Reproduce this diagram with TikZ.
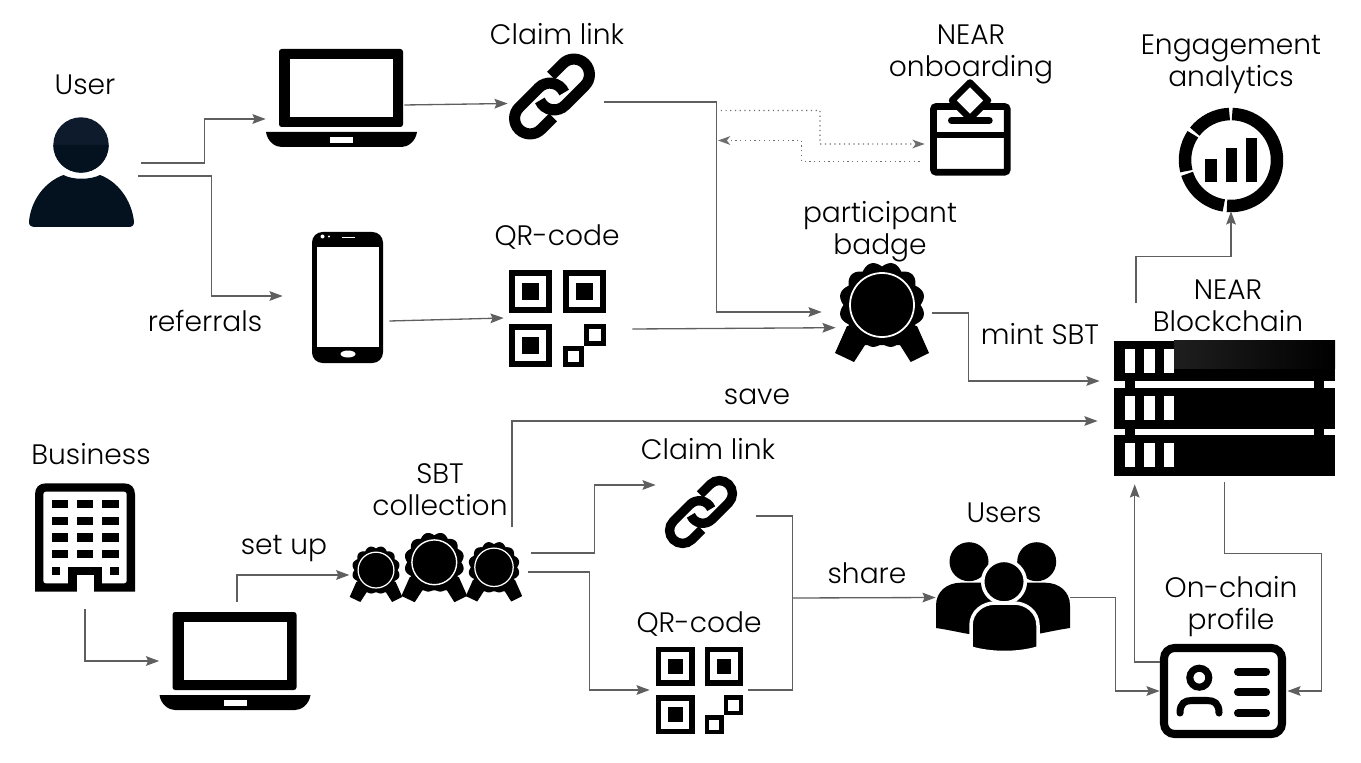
\documentclass[tikz,border=0pt]{standalone}
\usepackage{fontspec}
\setmainfont{Poppins}[UprightFont=* Light]
\usetikzlibrary{arrows.meta}
\definecolor{connGray}{HTML}{5F5F5F}
\definecolor{dotGray}{HTML}{6E6E6E}
\definecolor{userNavy}{HTML}{04111F}
\definecolor{headNavy}{HTML}{0D1B2C}
\tikzset{
  lbl/.style={font=\fontsize{16}{18.2}\selectfont, align=center, inner sep=0pt},
  iconbox/.style 2 args={minimum width=#1*0.02cm, minimum height=#2*0.02cm, inner sep=0pt},
  conn/.style={draw=connGray, line width=0.75pt},
  arr/.style={conn, -{Stealth[length=7.5pt,width=5.5pt,inset=1.2pt]}},
  dotarr/.style={draw=dotGray, line width=0.7pt, dotted, -{Stealth[length=7pt,width=5pt,inset=2pt,sep=0pt]}},
  pics/laptopicon/.style={code={
    \fill[black, rounded corners=1.5pt] (-62.5,-49) rectangle (61.5,29);
    \fill[white] (-51.5,-39) rectangle (51.5,19);
    \fill[black] (-75.5,34) -- (75.5,34) .. controls (74,44) and (66,49) .. (60,49) -- (-60,49) .. controls (-66,49) and (-74,44) .. (-75.5,34) -- cycle;
    \fill[white] (-11.5,39) rectangle (11.5,45);
  }},
  pics/phoneicon/.style={code={
    \fill[black, rounded corners=6pt] (-35.5,-65.5) rectangle (35.5,65.5);
    \fill[white] (-30.5,-50.5) rectangle (31.5,49.5);
    \fill[white] (0.5,56.5) ellipse (7.5 and 3.5);
    \fill[white] (-5.5,-60.8) rectangle (7.5,-59.2);
    \fill[white] (-25,-61) circle (2);
    \fill[white] (-18.5,-61) circle (1.2);
  }},
  pics/qricon/.style={code={
    \foreach \px/\py in {-27/-27,27.2/-27,-27/27} {
      \fill[black] ({\px-21.5},{\py-21.5}) rectangle ({\px+21.5},{\py+21.5});
      \fill[white] ({\px-15.5},{\py-15.5}) rectangle ({\px+15.5},{\py+15.5});
      \fill[black] ({\px-8.3},{\py-8.3}) rectangle ({\px+8.3},{\py+8.3});
    }
    \fill[black] (26.8,5.5) rectangle (48.5,27.5);
    \fill[white] (31.8,10.5) rectangle (43.5,22.5);
    \fill[black] (5.8,27.5) rectangle (26.8,48.5);
    \fill[white] (10.8,32.5) rectangle (21.8,43.5);
  }},
  pics/linkicon/.style={code={
    \foreach \ang in {-45,135} {
      \draw[black, line width=#1, rotate=\ang] (11.37,5.8) arc[start angle=22,end angle=-90,radius=15.5] -- (-31,-15.5) arc[start angle=-90,end angle=-270,radius=15.5] -- (-14,15.5);
    }
  }},
  pics/badgeicon/.style={code={
    \fill[black] (-47,41) -- (-35,14) -- (35,14) -- (47,41) -- (28.7,50) -- (18,33) -- (-17,33) -- (-28,50) -- cycle;
    \fill[black] plot[domain=0:360, samples=241] ({(38.5+4.5*abs(sin(6*\x)))*cos(\x)},{-7+(38.5+4.5*abs(sin(6*\x)))*sin(\x)}) -- cycle;
    \draw[white, line width=#1] (0,-7) circle (32);
  }},
  pics/ballot/.style={code={
    \draw[black, line width=3.8pt, rounded corners=1.5pt] (-37,-20.5) rectangle (36.7,45.2);
    \draw[black, line width=3.8pt] (-37,8) -- (36.7,8);
    \draw[black, fill=white, line width=3.7pt, line join=round] (-0.5,-44.5) -- (17.5,-26.5) -- (-0.5,-8.5) -- (-18.5,-26.5) -- cycle;
    \draw[black, line width=4pt, line cap=round] (-19,-6.5) -- (18.7,-6.5);
  }},
  pics/ringicon/.style={code={
    \foreach \aa/\bb in {-88.5/95,99/162.5,166/214,218/268} {
      \draw[black, line width=7.1pt] (\aa:46) arc[start angle=\aa,end angle=\bb,radius=46];
    }
    \fill[black] (-26,-0.7) rectangle (-14.3,21.7);
    \fill[black] (-5.3,-12.3) rectangle (6,21.7);
    \fill[black] (15,-22.3) rectangle (26,21.7);
  }},
  pics/servericon/.style={code={
    \fill[black] (-99.7,-27.2) rectangle (-89.7,26.8);
    \fill[black] (89.3,-27.2) rectangle (99.3,26.8);
    \foreach \ry in {-47.4,0.1,47.2} {
      \fill[black] (-110.4,{\ry-20.2}) rectangle (110.4,{\ry+20.2});
      \fill[white] (-99.7,{\ry-12}) rectangle (-89.7,{\ry+12});
      \fill[white] (-80.4,{\ry-12}) rectangle (-69.7,{\ry+12});
      \fill[white] (-60.7,{\ry-12}) rectangle (-50.7,{\ry+12});
    }
    \shade[left color=black!88, right color=black] (-50.7,-67.5) rectangle (110.4,-39.5);
  }},
  pics/usericon/.style={code={
    \fill[headNavy] (-0.5,-27.5) circle (27.7);
    \fill[userNavy] (-28.2,-27.5) arc[start angle=180,end angle=0,radius=27.7] -- cycle;
    \fill[userNavy] (-18,2.5) .. controls (-9,7.5) and (9,7.5) .. (18.5,2.5) .. controls (36,9) and (50,27) .. (52.5,49) .. controls (52.5,52.5) and (51,54.5) .. (48.5,54.5) -- (-48,54.5) .. controls (-51,54.5) and (-52.5,52.5) .. (-52.5,49) .. controls (-50.5,27) and (-36,9) .. (-18,2.5) -- cycle;
  }},
  pics/buildingicon/.style={code={
    \fill[black] (-50,54.2) -- (-50,-43) .. controls (-50,-50) and (-46,-54.2) .. (-39,-54.2) -- (39,-54.2) .. controls (46,-54.2) and (50,-50) .. (50,-43) -- (50,54.2) -- cycle;
    \fill[white, rounded corners=1.5pt] (-41.7,-45.8) rectangle (41.7,45.8);
    \foreach \wy in {-37.5,-20.8,-4.2,12.5} {
      \foreach \wx in {-33.3,-8.3,17} {
        \fill[black] (\wx,\wy) rectangle ({\wx+16.7},{\wy+8.3});
      }
    }
    \fill[black] (-33.3,29.2) rectangle (-25,37.5);
    \fill[black] (25,29.2) rectangle (33.7,37.5);
    \fill[black] (-17,29.8) rectangle (17.3,50);
    \fill[white] (-8.3,37.5) rectangle (9,54.7);
  }},
  pics/groupicon/.style={code={
    \fill[black] (-34,-35.8) circle (19.5);
    \fill[black] (33.7,-35.8) circle (19.5);
    \fill[black] (-67,30.5) -- (-67,8) .. controls (-67,-6) and (-56,-14.8) .. (-42,-14.8) -- (42,-14.8) .. controls (56,-14.8) and (67,-6) .. (67,8) -- (67,30.5) .. controls (50,33) and (40,36) .. (30,37) -- (-30,37) .. controls (-40,36) and (-50,33) .. (-67,30.5) -- cycle;
    \draw[white, fill=black, line width=2pt] (-32,50.5) -- (-32,28) .. controls (-32,14) and (-20,5.5) .. (-8,5.5) -- (11,5.5) .. controls (23,5.5) and (35,14) .. (35,28) -- (35,50.5) .. controls (15,56.5) and (-12,56.5) .. (-32,50.5) -- cycle;
    \draw[white, fill=black, line width=2pt] (1,-15.8) circle (21.3);
  }},
  pics/cardicon/.style={code={
    \draw[black, line width=4.6pt, rounded corners=6pt] (-59,-43) rectangle (59,43);
    \draw[black, line width=4pt] (-23.7,-13.3) circle (9.5);
    \draw[black, line width=4pt, line cap=round] (-43,22) .. controls (-43,12) and (-38,9.5) .. (-31,9.5) -- (-16,9.5) .. controls (-9,9.5) and (-4,12) .. (-4,22);
    \foreach \ly in {-19.3,1.3,22.3} {
      \draw[black, line width=4.6pt, line cap=round] (15,\ly) -- (43,\ly);
    }
  }}
}
\begin{document}
\begin{tikzpicture}[x=0.02cm,y=0.02cm,yscale=-1,every pic/.style={yscale=-1}]
  \useasboundingbox (0,0) rectangle (1361,763);
  % icons
  \node[iconbox={105}{109}] (user) at (81.5,172.5) {};
  \pic at (user) {usericon};
  \node[iconbox={151}{98}] (laptopTop) at (341.5,98) {};
  \pic at (laptopTop) {laptopicon};
  \node[iconbox={71}{131}] (phone) at (347.5,297.5) {};
  \pic at (phone) {phoneicon};
  \node[iconbox={88}{83}] (linkTop) at (552,96.5) {};
  \pic at (linkTop) {linkicon=6.3pt};
  \node[iconbox={97}{97}] (qrTop) at (557.5,318.5) {};
  \pic at (qrTop) {qricon};
  \node[iconbox={81}{98}] (ballotBox) at (970.5,127) {};
  \pic at (ballotBox) {ballot};
  \node[iconbox={94}{100}] (badge) at (882,312) {};
  \pic at (badge) {badgeicon=1pt};
  \node[iconbox={104}{104}] (analytics) at (1231,160) {};
  \pic at (analytics) {ringicon};
  \node[iconbox={221}{135}] (server) at (1224.7,408.2) {};
  \pic at (server) {servericon};
  \node[iconbox={100}{108.4}] (building) at (85,537.5) {};
  \pic at (building) {buildingicon};
  \node[iconbox={151}{98}] (laptopBottom) at (235,661) {};
  \pic at (laptopBottom) {laptopicon};
  \node[iconbox={52.6}{56}] (badgeA) at (376,574) {};
  \pic[scale=0.56] at (badgeA) {badgeicon=0.7pt};
  \node[iconbox={65.8}{70}] (badgeB) at (434.3,567.2) {};
  \pic[scale=0.7] at (badgeB) {badgeicon=0.8pt};
  \node[iconbox={56.4}{60}] (badgeC) at (494,571.5) {};
  \pic[scale=0.6] at (badgeC) {badgeicon=0.7pt};
  \node[iconbox={74}{70}] (linkBottom) at (701,512) {};
  \pic[scale=0.84] at (linkBottom) {linkicon=5.3pt};
  \node[iconbox={87}{85}] (qrBottom) at (699.5,690.5) {};
  \pic[scale=0.9] at (qrBottom) {qricon};
  \node[iconbox={134}{111}] (users) at (1003,597.5) {};
  \pic at (users) {groupicon};
  \node[iconbox={126}{94}] (profile) at (1223,691) {};
  \pic at (profile) {cardicon};
  % labels
  \node[lbl] (userText) at (85,85) {User};
  \node[lbl] (claimTop) at (557,34) {Claim link};
  \node[lbl] (nearText) at (971,54) {NEAR\\onboarding};
  \node[lbl] (engageText) at (1231,64) {Engagement\\analytics};
  \node[lbl] (badgeText) at (880,232) {participant\\badge};
  \node[lbl] (qrTopText) at (557,237) {QR-code};
  \node[lbl] (referText) at (205,321) {referrals};
  \node[lbl] (mintText) at (1040,334) {mint SBT};
  \node[lbl] (chainText) at (1228,306) {NEAR\\Blockchain};
  \node[lbl] (saveText) at (757,397) {save};
  \node[lbl] (businessText) at (91,454) {Business};
  \node[lbl] (sbtText) at (440,490) {SBT\\collection};
  \node[lbl] (claimBottom) at (708,449) {Claim link};
  \node[lbl] (setupText) at (284,549) {set up};
  \node[lbl] (shareText) at (867,573) {share};
  \node[lbl] (usersText) at (1004,513) {Users};
  \node[lbl] (qrBottomText) at (699,624) {QR-code};
  \node[lbl] (profileText) at (1231,607) {On-chain\\profile};
  % connectors
  \coordinate (dotStart) at (716,110.5);
  \coordinate (dotEnd) at (718,140.5);
  \coordinate (shareJoin) at (792,598);
  \draw[arr] ([shift={(7,-9.5)}]user.east) -- ++(63,0) |- ([shift={(0,21)}]laptopTop.west);
  \draw[arr] ([shift={(4,3.5)}]user.east) -- ++(73,0) |- ([shift={(-29,-1.5)}]phone.west);
  \draw[arr] ([shift={(-13,7)}]laptopTop.east) -- ([shift={(0,7)}]linkTop.west);
  \draw[arr] ([shift={(8,5.5)}]linkTop.east) -- ++(112,0) |- ([xshift=-0.26cm]badge.west);
  \draw[arr] ([shift={(6,23.5)}]phone.east) -- ([shift={(-5,-0.5)}]qrTop.west);
  \draw[arr] ([shift={(26,10.5)}]qrTop.east) -- ([shift={(1,15.7)}]badge.west);
  \draw[dotarr] (dotStart) -- ++(104,0) -- ++(0,33.5) -- ([shift={(-5,17)}]ballotBox.west);
  \draw[dotarr] ([shift={(-10,34.5)}]ballotBox.west) -- ++(-118,0) |- (dotEnd);
  \draw[arr] ([shift={(3,1)}]badge.east) -- ++(36,0) |- ([shift={(-14.3,-27.2)}]server.west);
  \draw[arr] ([shift={(-88.7,-37.7)}]server.north) -- ++(0,-46) -| ([yshift=-0.02cm]analytics.south);
  \draw[arr] ([shift={(18,-14)}]badgeC.north) |- ([shift={(-16.3,12.8)}]server.west);
  \draw[arr] ([shift={(2,-10)}]laptopBottom.north) |- ([shift={(0,1)}]badgeA.west);
  \draw[arr] ([shift={(0,17)}]building.south) |- (laptopBottom.west);
  \draw[arr] ([shift={(8,-18.5)}]badgeC.east) -- ++(64,0) |- ([shift={(-8,-27)}]linkBottom.west);
  \draw[arr] ([shift={(5,0.5)}]badgeC.east) -- ++(62,0) |- ([shift={(-6,-0.5)}]qrBottom.west);
  \draw[conn] ([shift={(18,4)}]linkBottom.east) -- ++(36,0) |- ([shift={(5,-0.5)}]qrBottom.east);
  \draw[arr] (shareJoin) -- (users.west);
  \draw[arr] (users.east) -- ++(45,0) |- (profile.west);
  \draw[arr] ([shift={(0,-29)}]profile.west) -| ([shift={(-90,8.3)}]server.south);
  \draw[arr] ([shift={(0,6.3)}]server.south) -- ++(0,71) -- ++(97,0) |- ([xshift=0.02cm]profile.east);
\end{tikzpicture}
\end{document}
